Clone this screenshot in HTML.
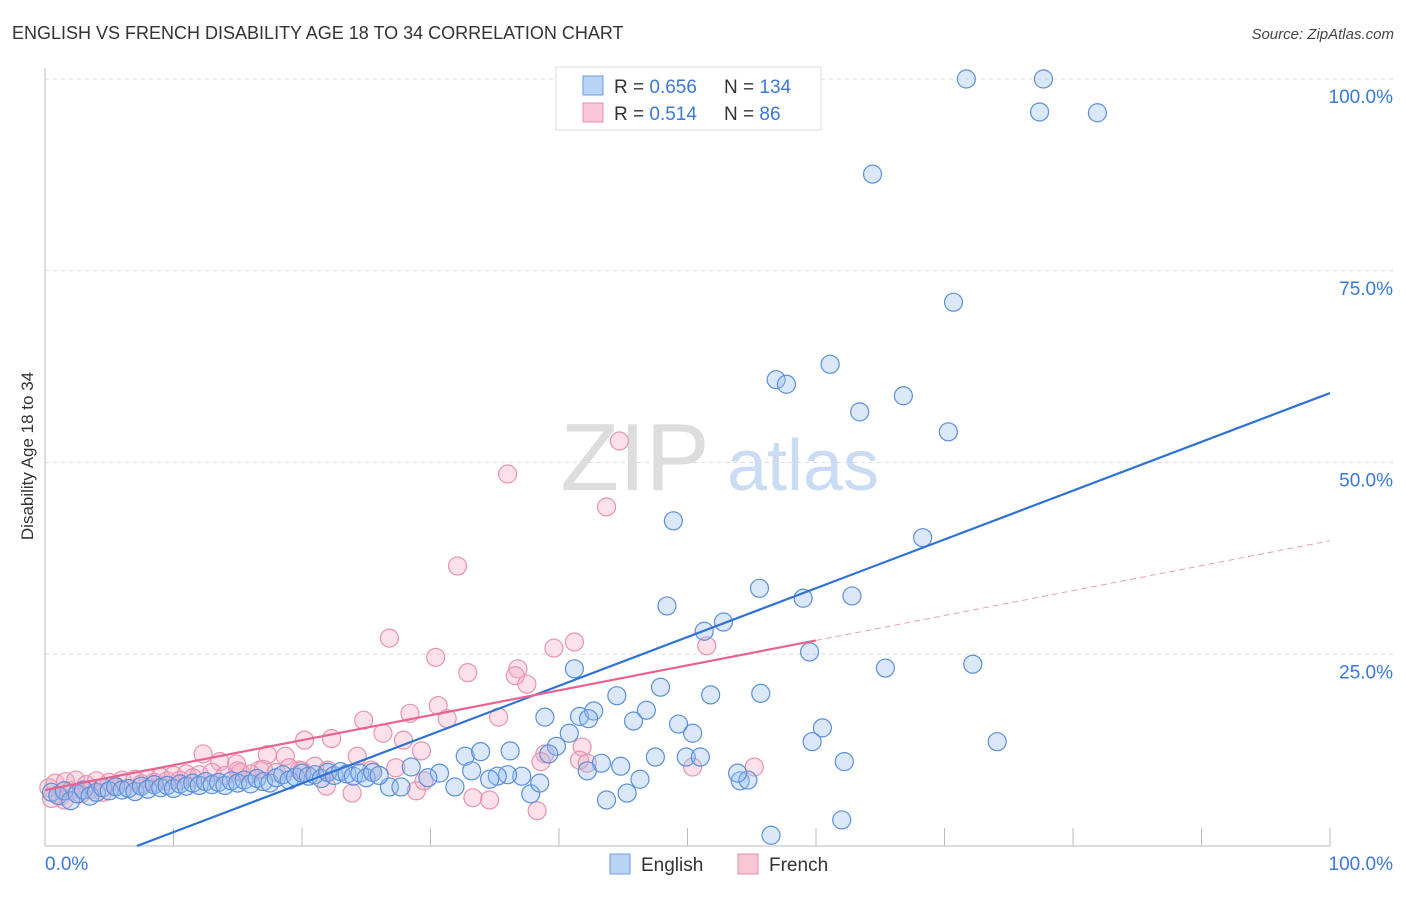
<!DOCTYPE html>
<html><head><meta charset="utf-8"><style>
body{margin:0;background:#fff;font-family:"Liberation Sans",sans-serif;}
svg text{font-family:"Liberation Sans",sans-serif;}
</style></head><body>
<svg id="chart" width="1406" height="892" xmlns="http://www.w3.org/2000/svg">
<text x="12" y="39" font-size="18" fill="#333">ENGLISH VS FRENCH DISABILITY AGE 18 TO 34 CORRELATION CHART</text>
<text x="1394" y="39" font-size="15" fill="#444" text-anchor="end" font-style="italic">Source: ZipAtlas.com</text>
<g>
<text x="635" y="490" font-size="96" fill="#ddd" text-anchor="middle" font-family="Liberation Serif,serif">ZIP</text>
<text x="803" y="490" font-size="72" fill="#c9dcf3" text-anchor="middle">atlas</text>
</g>
<g id="grid"></g>
<g id="axes"></g>
<g id="points"></g>
<g id="trends"></g>
<text transform="translate(33,456) rotate(-90)" font-size="17" fill="#333" text-anchor="middle">Disability Age 18 to 34</text>
<g>
<rect x="556" y="67" width="265" height="63" fill="#fff" stroke="#ddd"/>
<rect x="583" y="76" width="20" height="19" fill="#b9d3f4" stroke="#6b9be0"/>
<rect x="583" y="103" width="20" height="19" fill="#f9c6d5" stroke="#e890ab"/>
<text x="614" y="93" font-size="19" fill="#333">R = <tspan fill="#3b78d8">0.656</tspan></text>
<text x="724" y="93" font-size="19" fill="#333">N = <tspan fill="#3b78d8">134</tspan></text>
<text x="614" y="120" font-size="19" fill="#333">R = <tspan fill="#3b78d8"> 0.514</tspan></text>
<text x="724" y="120" font-size="19" fill="#333">N = <tspan fill="#3b78d8">  86</tspan></text>
</g>
<g>
<rect x="610" y="854" width="20" height="20" fill="#b9d3f4" stroke="#6b9be0"/>
<text x="641" y="871" font-size="19" fill="#333">English</text>
<rect x="738" y="854" width="20" height="20" fill="#f9c6d5" stroke="#e890ab"/>
<text x="769" y="871" font-size="19" fill="#333">French</text>
</g>
</svg>
<script>
const englishX=[71.7,77.7,77.4,81.9,64.4,70.7,56.9,57.7,61.1,63.4,66.8,70.3,48.9,68.3,48.4,55.6,52.8,51.3,59.0,62.8,59.5,65.4,72.2,41.2,47.9,44.5,51.8,55.7,38.9,41.6,42.7,42.3,45.8,46.8,49.3,50.4,40.8,39.8,39.2,60.5,59.7,49.9,51.0,47.5,43.3,44.8,62.2,74.1,32.7,33.9,36.2,42.2,54.1,54.7,53.9,46.3,43.7,45.3,56.5,62.0,37.8,38.5,37.1,36.0,35.2,33.2,30.7,29.8,28.5,26.8,27.7,31.9,34.6,
0.5,1.0,1.5,2.0,2.5,3.0,3.5,4.0,4.5,5.0,5.5,6.0,6.5,7.0,7.5,8.0,8.5,9.0,9.5,10,10.5,11,11.5,12,12.5,13,13.5,14,14.5,15,15.5,16,16.5,17,17.5,18,18.5,19,19.5,20,20.5,21,21.5,22,22.5,23,23.5,24,24.5,25,25.5,26];
const englishY=[100,100,95.7,95.6,87.6,70.9,60.8,60.2,62.8,56.6,58.7,54.0,42.4,40.2,31.3,33.6,29.2,28.0,32.3,32.6,25.3,23.2,23.7,23.1,20.7,19.6,19.7,19.9,16.8,16.9,17.6,16.6,16.3,17.7,15.9,14.7,14.7,13.0,12.0,15.4,13.6,11.6,11.6,11.6,10.8,10.4,11.0,13.6,11.7,12.3,12.4,9.8,8.5,8.6,9.5,8.7,6.0,6.9,1.4,3.4,6.8,8.2,9.1,9.3,9.1,9.8,9.5,8.9,10.3,7.7,7.7,7.7,8.7,
7.0,6.6,7.2,5.9,6.8,7.3,6.5,7.0,7.6,7.2,7.7,7.3,7.5,7.1,7.8,7.4,8.0,7.6,7.9,7.5,8.1,7.8,8.2,7.9,8.4,8.0,8.3,7.9,8.5,8.2,8.6,8.1,8.8,8.4,8.2,8.9,9.3,8.6,9.0,9.5,9.1,9.3,8.8,9.6,9.2,9.7,9.4,9.1,9.5,8.9,9.6,9.2];
const frenchX=[43.7,44.7,36.0,32.1,26.8,30.4,32.9,36.8,36.6,37.5,39.6,41.2,51.5,28.4,30.6,31.3,35.3,24.8,26.3,27.9,24.3,22.3,20.2,18.7,17.3,12.3,13.6,14.9,29.3,41.8,41.6,42.2,38.9,38.6,50.4,55.2,33.3,34.6,38.3,23.9,21.9,28.9,29.5,25.4,27.3,19.8,16.7,15.2,
0.3,0.8,1.2,1.6,2.0,2.4,2.8,3.2,3.6,4.0,4.5,5.0,5.5,6.0,6.5,7.0,7.5,8.0,8.5,9.0,9.5,10,10.5,11,11.5,12,13,14,15,16,17,18,19,20,21,22,0.5,1.5];
const frenchY=[44.2,52.8,48.5,36.5,27.1,24.6,22.6,23.1,22.2,21.1,25.8,26.6,26.1,17.3,18.3,16.6,16.8,16.4,14.7,13.8,11.7,14.0,13.8,11.7,11.9,12.0,11.0,10.7,12.4,12.9,11.2,10.8,12.0,11.0,10.3,10.3,6.3,6.0,4.6,6.9,7.8,7.2,8.5,9.9,10.2,9.9,9.9,9.6,
7.6,8.2,6.5,8.4,7.2,8.6,6.8,8.0,7.4,8.5,7.0,8.3,7.8,8.6,7.5,8.7,8.1,8.8,8.3,9.0,8.5,9.2,8.6,9.4,8.9,9.3,9.6,9.2,9.8,9.4,10.0,9.6,10.2,9.8,10.4,9.9,6.2,6.0];
const yTicks=[25,50,75,100];
const yTickLabels=["25.0%","50.0%","75.0%","100.0%"];
const englishTrend=[-4.55,0.636];
const frenchTrend=[7.3,0.325];
const NS="http://www.w3.org/2000/svg";
const sx=v=>45+v*12.85, sy=v=>846-v*7.67;
function mk(t,a,p){const e=document.createElementNS(NS,t);for(const k in a)e.setAttribute(k,a[k]);p.appendChild(e);return e;}
const grid=document.getElementById('grid'),axes=document.getElementById('axes'),pts=document.getElementById('points'),tr=document.getElementById('trends');
yTicks.forEach((t,i)=>{
 const l=mk('line',{x1:45,x2:1394,y1:sy(t),y2:sy(t),stroke:'#ddd','stroke-dasharray':'4,4'},grid);
 
 
 const tx=mk('text',{x:1393,y:sy(t)+24,'font-size':19,fill:'#3b78d8','text-anchor':'end'},axes);
 tx.textContent=yTickLabels[i];
 
 
});
mk('line',{x1:45,x2:45,y1:68,y2:846,stroke:'#bbb'},axes);
mk('line',{x1:45,x2:1330,y1:846,y2:846,stroke:'#bbb'},axes);
for(let i=1;i<=10;i++){const tk=mk('line',{x1:sx(i*10),x2:sx(i*10),y1:828,y2:846,stroke:'#bbb'},axes);
 
 }
const xl0=mk('text',{x:45,y:870,'font-size':19,fill:'#3b78d8'},axes);xl0.textContent='0.0%';


const xl1=mk('text',{x:1393,y:870,'font-size':19,fill:'#3b78d8','text-anchor':'end'},axes);xl1.textContent='100.0%';


frenchX.forEach((x,i)=>{const c=mk('circle',{cx:sx(x),cy:sy(frenchY[i]),r:9,fill:'rgba(246,170,195,0.35)',stroke:'#e993ae','stroke-width':1.2},pts);
 
 });
englishX.forEach((x,i)=>{const c=mk('circle',{cx:sx(x),cy:sy(englishY[i]),r:9,fill:'rgba(150,190,240,0.35)',stroke:'#5b8fd9','stroke-width':1.2},pts);
 
 });
const x0=-englishTrend[0]/englishTrend[1];
const bl=mk('line',{x1:sx(x0),y1:sy(0),x2:sx(100),y2:sy(englishTrend[0]+englishTrend[1]*100),stroke:'#2f72d6','stroke-width':2.2},tr);


const pl=mk('line',{x1:sx(0),y1:sy(frenchTrend[0]),x2:sx(60),y2:sy(frenchTrend[0]+frenchTrend[1]*60),stroke:'#e8648f','stroke-width':2.2},tr);


const pd=mk('line',{x1:sx(60),y1:sy(frenchTrend[0]+frenchTrend[1]*60),x2:sx(100),y2:sy(frenchTrend[0]+frenchTrend[1]*100),stroke:'#e8a0b8','stroke-width':1,'stroke-dasharray':'6,4'},tr);


</script>
</body></html>
